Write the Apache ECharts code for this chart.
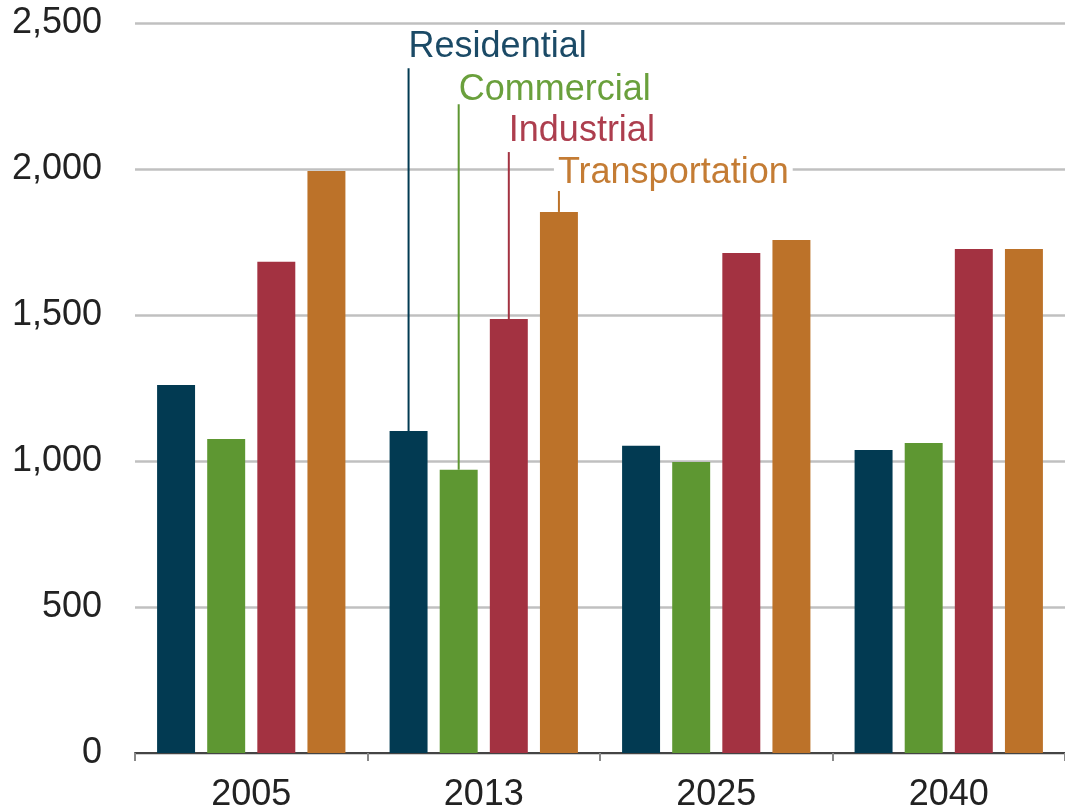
<!DOCTYPE html>
<html>
<head>
<meta charset="utf-8">
<script src="https://cdn.jsdelivr.net/npm/echarts@6/dist/echarts.min.js"></script>
<style>
html,body{margin:0;padding:0;background:#fff;}
#chart{width:1065px;height:808px;}
</style>
</head>
<body>
<div id="chart"></div>
<script>
const categories = ['2005', '2013', '2025', '2040'];
const seriesNames = ['Residential', 'Commercial', 'Industrial', 'Transportation'];
const residential = [1260, 1103, 1052, 1038];
const commercial = [1075, 970, 997, 1062];
const industrial = [1682, 1486, 1712, 1726];
const transportation = [1993, 1853, 1757, 1726];
const yTicks = [0, 500, 1000, 1500, 2000, 2500];

const seriesValues = [residential, commercial, industrial, transportation];
const colors = ['#023a52', '#5e9732', '#a33241', '#bc7229'];
const textColors = ['#1b4a66', '#6aa03c', '#ad3e4e', '#c47c34'];

const BAR_GAP = 0.32, CAT_GAP = 0.19;
const FONT = '"Liberation Sans", Arial, sans-serif';

// callouts: attached to 2013 bars; label heights in value units
const callouts = [
  {s: 0, cat: '2013', lineTop: 2345, label: 2416},
  {s: 1, cat: '2013', lineTop: 2222, label: 2270},
  {s: 2, cat: '2013', lineTop: 2058, label: 2130},
  {s: 3, cat: '2013', lineTop: 1930, label: 1986}
];

const chart = echarts.init(document.getElementById('chart'), null, {renderer: 'canvas'});

const barSeries = seriesNames.map((name, i) => ({
  name: name,
  type: 'bar',
  data: seriesValues[i],
  barGap: (BAR_GAP * 100) + '%',
  barCategoryGap: (CAT_GAP * 100) + '%',
  itemStyle: {color: colors[i]},
  z: 2
}));

const calloutData = callouts.map(c => [c.cat, c.s, seriesValues[c.s][categories.indexOf(c.cat)], c.lineTop, c.label]);

const calloutSeries = {
  type: 'custom',
  z: 5,
  silent: true,
  data: calloutData,
  encode: {x: 0, y: 2},
  renderItem: function (params, api) {
    const cat = api.value(0);
    const s = api.value(1);
    const barVal = api.value(2);
    const lineTop = api.value(3);
    const labelVal = api.value(4);
    const n = seriesNames.length;
    const band = api.size([1, 0])[0];
    const usable = band * (1 - CAT_GAP);
    const bw = usable / (n + (n - 1) * BAR_GAP);
    const center = api.coord([cat, 0])[0];
    const x = center - usable / 2 + s * bw * (1 + BAR_GAP) + bw / 2;
    const yBar = api.coord([cat, barVal])[1];
    const yTop = api.coord([cat, lineTop])[1];
    const yLab = api.coord([cat, labelVal])[1];
    const isLast = s === n - 1;
    return {
      type: 'group',
      children: [
        {type: 'line', shape: {x1: x, y1: yBar, x2: x, y2: yTop},
         style: {stroke: colors[s], lineWidth: 2}},
        {type: 'text', x: isLast ? x - 5 : x, y: yLab,
         style: {text: seriesNames[s], fill: textColors[s],
           font: '36px ' + FONT, textAlign: 'left', textVerticalAlign: 'middle',
           backgroundColor: isLast ? '#ffffff' : null,
           padding: isLast ? [0, 4, 0, 4] : 0}}
      ]
    };
  }
};

chart.setOption({
  animation: false,
  backgroundColor: '#ffffff',
  grid: {left: 135, right: 0, top: 23, bottom: 55, containLabel: false, outerBoundsMode: 'none'},
  xAxis: {
    type: 'category',
    data: categories,
    axisLine: {show: true, lineStyle: {color: '#444444', width: 2}},
    axisTick: {show: true, length: 8, lineStyle: {color: '#888888', width: 2}},
    axisLabel: {color: '#222222', fontSize: 36, fontFamily: FONT, margin: 24},
    splitLine: {show: false}
  },
  yAxis: {
    type: 'value',
    min: yTicks[0],
    max: yTicks[yTicks.length - 1],
    interval: yTicks[1] - yTicks[0],
    axisLine: {show: false},
    axisTick: {show: false},
    axisLabel: {color: '#222222', fontSize: 36, fontFamily: FONT, margin: 33,
      formatter: v => v.toLocaleString('en-US')},
    splitLine: {show: true, lineStyle: {color: '#c0c0c0', width: 2.5}}
  },
  series: barSeries.concat([calloutSeries])
});
</script>
</body>
</html>
